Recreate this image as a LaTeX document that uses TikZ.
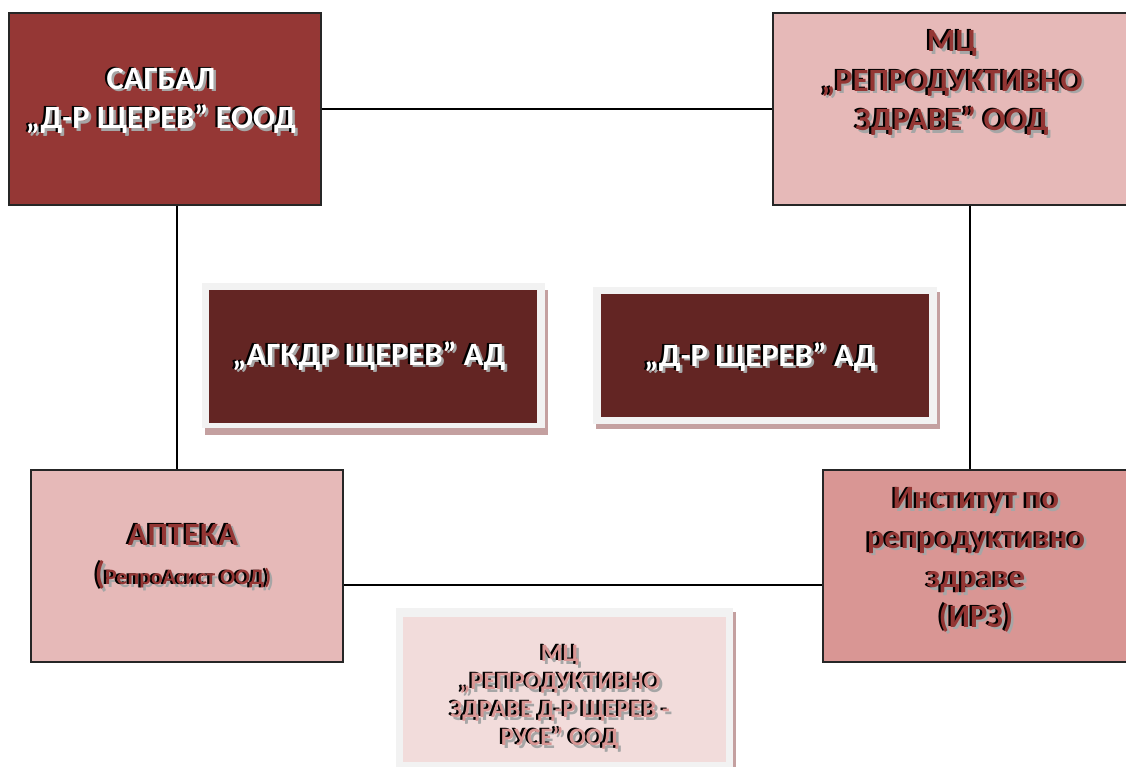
\documentclass[tikz,border=0pt]{standalone}
\usepackage{fontspec}
\setmainfont{Carlito}
\definecolor{sagred}{HTML}{953735}
\definecolor{pinkA}{HTML}{E6B9B8}
\definecolor{pinkB}{HTML}{D99694}
\definecolor{pinkC}{HTML}{F2DCDB}
\definecolor{darkred}{HTML}{632523}
\definecolor{txtred}{HTML}{943634}
\definecolor{ruset}{HTML}{D99694}
\definecolor{shgray}{HTML}{A6A6A6}
\definecolor{framegray}{HTML}{F2F2F2}
\definecolor{shadowpink}{HTML}{C4A0A0}
\newcommand\shd[2]{%
 \makebox[0pt][l]{\hspace{2.5pt}\raisebox{-2.5pt}{\color{shgray}\begin{tabular}{@{}c@{}}#2\end{tabular}}}%
 \makebox[0pt][l]{\hspace{-2.3pt}\raisebox{0.8pt}{\color{black}\begin{tabular}{@{}c@{}}#2\end{tabular}}}%
 {\color{#1}\begin{tabular}{@{}c@{}}#2\end{tabular}}}
\tikzset{
  mainbox/.style={draw=black!85, line width=1.6pt, inner sep=0pt},
  framebox/.style={fill=framegray, draw=none, inner sep=0pt},
  shadowbox/.style={fill=shadowpink, draw=none, inner sep=0pt},
  innerbox/.style={fill=darkred, draw=none, inner sep=0pt},
  bigtxt/.style={inner sep=0pt, font=\fontsize{32.5}{39.5}\selectfont\bfseries},
  smalltxt/.style={inner sep=0pt, font=\fontsize{25}{28}\selectfont\bfseries},
  conn/.style={draw=black, line width=1.3pt}
}
\begin{document}
\begin{tikzpicture}[x=1pt,y=-1pt]
\useasboundingbox (0,0) rectangle (1126,767);
\clip (0,0) rectangle (1126,767);
\fill[white] (0,0) rectangle (1126,767);
% main boxes
\node[mainbox, fill=sagred, minimum width=312pt, minimum height=192pt] (sag) at (165,109) {};
\node[mainbox, fill=pinkA, minimum width=357pt, minimum height=192pt] (mc) at (951.5,109) {};
\node[mainbox, fill=pinkA, minimum width=312pt, minimum height=192pt] (apt) at (187,566) {};
\node[mainbox, fill=pinkB, minimum width=307pt, minimum height=192pt] (irz) at (976.5,566) {};
% connector helpers
\coordinate (v1) at (177,0);
\coordinate (v2) at (970,0);
\coordinate (h1) at (0,585);
\draw[conn] (sag.east) -- (mc.west);
\draw[conn] (sag.south -| v1) -- (apt.north -| v1);
\draw[conn] (mc.south -| v2) -- (irz.north -| v2);
\draw[conn] (apt.east |- h1) -- (irz.west |- h1);
% middle framed boxes
\node[shadowbox, minimum width=343pt, minimum height=145pt] (agS) at (376.5,362.5) {};
\node[framebox, minimum width=343pt, minimum height=145pt] (agO) at (373.5,355.5) {};
\node[innerbox, minimum width=328pt, minimum height=133pt] (ag) at (373,356.5) {};
\node[shadowbox, minimum width=344pt, minimum height=137pt] (drS) at (768,360.5) {};
\node[framebox, minimum width=344pt, minimum height=137pt] (drO) at (765,355.5) {};
\node[innerbox, minimum width=328pt, minimum height=123pt] (dr) at (765,355.5) {};
\node[shadowbox, minimum width=337pt, minimum height=167pt] (ruS) at (567.5,695.5) {};
\node[framebox, minimum width=337pt, minimum height=167pt] (ruO) at (564.5,691.5) {};
\node[innerbox, fill=pinkC, minimum width=323pt, minimum height=145pt] (ru) at (564.5,689.5) {};
% texts
\node[bigtxt] (sagT) at (161,102) {\shd{white}{САГБАЛ\\„Д-Р ЩЕРЕВ” ЕООД}};
\node[bigtxt] (mcT) at (952,84) {\shd{txtred}{МЦ\\„РЕПРОДУКТИВНО\\ЗДРАВЕ” ООД}};
\node[bigtxt] (agT) at (369,358) {\shd{white}{„АГКДР ЩЕРЕВ” АД}};
\node[bigtxt] (drT) at (760,359) {\shd{white}{„Д-Р ЩЕРЕВ” АД}};
\node[bigtxt] (aptT) at (183,558) {\shd{txtred}{АПТЕКА\\(\fontsize{22}{39}\selectfont РепроАсист ООД)}};
\node[bigtxt] (irzT) at (976,561) {\shd{txtred}{Институт по\\репродуктивно\\здраве\\(ИРЗ)}};
\node[smalltxt] (ruT) at (560,699) {\shd{ruset}{МЦ\\„РЕПРОДУКТИВНО\\ЗДРАВЕ Д-Р ЩЕРЕВ -\\РУСЕ” ООД}};
\end{tikzpicture}
\end{document}
